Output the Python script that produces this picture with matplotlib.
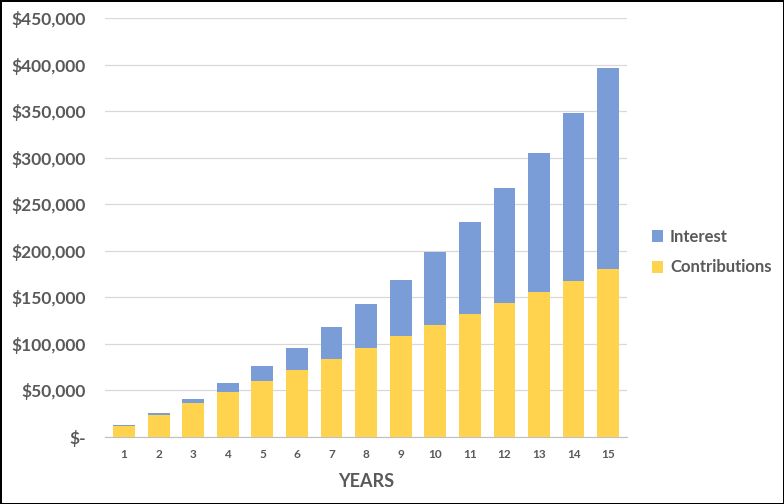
import matplotlib
matplotlib.use('Agg')
import matplotlib.pyplot as plt
import matplotlib.ticker as mticker
import numpy as np

years = [str(y) for y in range(1, 16)]
contributions = [12000, 24000, 36000, 48000, 60000, 72000, 84000, 96000,
                 108000, 120000, 132000, 144000, 156000, 168000, 180000]
totals = [13000, 25800, 41000, 58000, 76500, 96000, 118500, 143000,
          169000, 199000, 231500, 267000, 305500, 348000, 396000]
interest = [t - c for t, c in zip(totals, contributions)]

BLUE = '#7A9DD7'
YELLOW = '#FFD34D'
GREY = '#595959'

plt.rcParams['font.family'] = ['Lato', 'DejaVu Sans']

fig = plt.figure(figsize=(7.84, 5.04), dpi=100)
fig.patch.set_edgecolor('black')
fig.patch.set_linewidth(2)
ax = fig.add_axes([0.134, 0.133, 0.666, 0.831])

x = np.arange(len(years))
ax.bar(x, contributions, width=0.63, color=YELLOW, label='Contributions', zorder=3)
ax.bar(x, interest, width=0.63, bottom=contributions, color=BLUE, label='Interest', zorder=3)

ax.set_xlim(-0.55, len(years) - 0.45)
ax.set_ylim(0, 450000)
ax.yaxis.set_major_locator(mticker.MultipleLocator(50000))
ax.yaxis.set_major_formatter(mticker.FuncFormatter(lambda v, _: '$-' if v == 0 else f'${v:,.0f}'))
ax.set_xticks(x)
ax.set_xticklabels(years)

ax.grid(axis='y', color='#D9D9D9', linewidth=0.9, zorder=0)
for side in ['top', 'right', 'left']:
    ax.spines[side].set_visible(False)
ax.spines['bottom'].set_color('#BFBFBF')
ax.tick_params(axis='both', length=0)
ax.tick_params(axis='y', labelsize=12.5, labelcolor=GREY, pad=14)
ax.tick_params(axis='x', labelsize=8.5, labelcolor=GREY, pad=9)
for lbl in ax.get_yticklabels():
    lbl.set_fontweight('bold')
for lbl in ax.get_xticklabels():
    lbl.set_fontweight('bold')

ax.set_xlabel('YEARS', fontsize=13, fontweight='bold', color=GREY, labelpad=9)

handles, labels = ax.get_legend_handles_labels()
leg = fig.legend(handles[::-1], labels[::-1], loc='center left', bbox_to_anchor=(0.812, 0.5),
                 frameon=False, fontsize=12, handlelength=0.7, handleheight=0.7,
                 handletextpad=0.4, labelspacing=0.9)
for t in leg.get_texts():
    t.set_color(GREY)
    t.set_fontweight('bold')

fig.savefig('out.png', dpi=100)
